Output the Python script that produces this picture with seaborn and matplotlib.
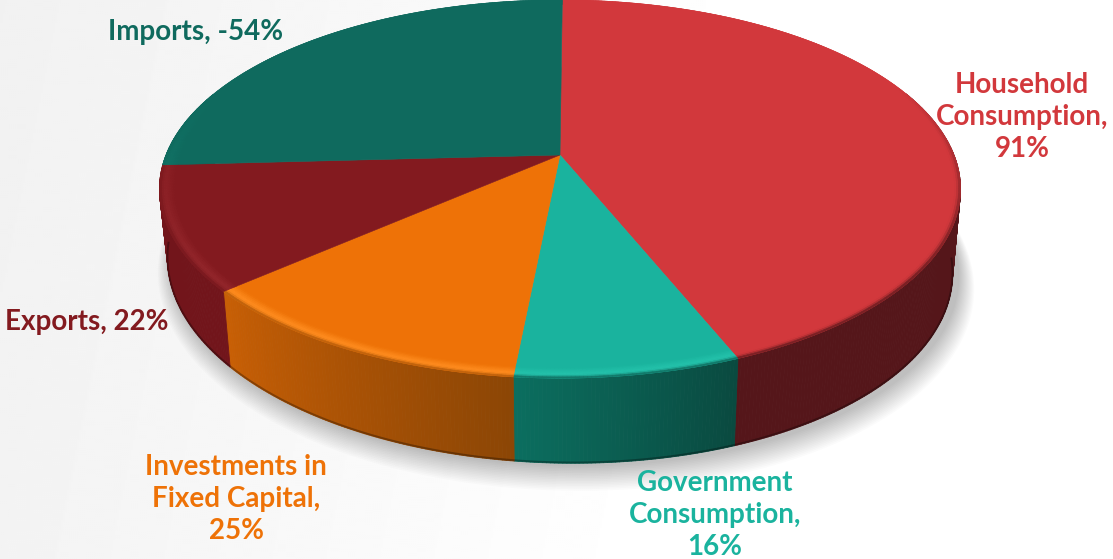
import numpy as np
import matplotlib
matplotlib.use("Agg")
import matplotlib.pyplot as plt
from matplotlib.collections import PolyCollection
import seaborn as sns

# GDP expenditure components, in percent
components = ["Household\nConsumption", "Government\nConsumption", "Investments in\nFixed Capital", "Exports", "Imports"]
shares = [91, 16, 25, 22, -54]

top_colors = ["#D2383C", "#1AB39E", "#EE7207", "#831A1F", "#0F6A5E"]
rim_colors = ["#D2383C", "#24C2AB", "#FF8C1E", "#93262B", "#14796B"]
side_light = ["#55161A", "#0B6E5F", "#C85F05", "#72151B", "#0F6A5E"]
side_dark = ["#55161A", "#0A4A40", "#8C4605", "#72151B", "#0F6A5E"]
label_xy = [(1022, 117), (715, 515), (236, 499), (87, 322), (196, 32)]

sns.set_theme(style="white")
plt.rcParams["font.family"] = ["Lato", "DejaVu Sans"]

# Perspective model of the pie: pixel-like axes, disc centre and tilt
CX, CY, RAD, TILT, PERSP = 560.0, 155.0, 394.0, 183.0, 0.18
START = np.deg2rad(0.4)


def top_face(t, r=1.0):
    w = 1 + PERSP * r * np.cos(t)
    return CX + RAD * r * np.sin(t) / w, CY - TILT * r * np.cos(t) / w


def bottom_face(t):
    x, y = top_face(t)
    return CX + (x - CX) * 0.98, y + 75 - 10 * np.cos(t) + 8 * np.sin(t)


def to_rgb_array(c):
    return np.array(matplotlib.colors.to_rgb(c))


fig = plt.figure(figsize=(11.13, 5.59), dpi=100)
ax = fig.add_axes([0, 0, 1, 1])

# Soft diagonal backdrop, pale gray on the left fading to white
gx, gy = np.meshgrid(np.linspace(0, 1113, 557), np.linspace(0, 559, 280))
shade = np.clip(0.945 + 0.055 * (gx + 0.2 * gy) / 760, 0.945, 1.0)
ax.imshow(shade, extent=(0, 1113, 559, 0), cmap="gray", vmin=0, vmax=1, aspect="auto", zorder=0,
          interpolation="bilinear")
ax.set_xlim(0, 1113)
ax.set_ylim(559, 0)
ax.axis("off")

# Cast shadow under the disc
ring = np.linspace(0, 2 * np.pi, 400)
bx, by = bottom_face(ring)
for grow in np.linspace(20, 1, 16):
    sx = CX + 6 + (bx - CX) * (1 + grow / 500)
    sy = by + 2 + grow * 0.6 + (by - by.mean()) * (grow / 320)
    ax.fill(sx, sy, color="black", alpha=0.015, lw=0, zorder=1)

magnitudes = np.abs(shares)
edges = START + np.concatenate([[0], np.cumsum(magnitudes)]) / magnitudes.sum() * 2 * np.pi

for i, name in enumerate(components):
    t0, t1 = edges[i], edges[i + 1]
    ts = np.linspace(t0, t1, max(int((t1 - t0) * 120), 8))

    # Outer wall, only where it faces the viewer
    ramp = sns.blend_palette([side_light[i], side_dark[i]], len(ts) - 1)
    if ts[-1] > np.pi:  # gradient always runs left to right on screen
        ramp = ramp[::-1]
    quads, cols = [], []
    for j in range(len(ts) - 1):
        if np.cos(ts[j]) > 0.35 and np.cos(ts[j + 1]) > 0.35:
            continue
        x0, y0 = top_face(ts[j])
        x1, y1 = top_face(ts[j + 1])
        x2, y2 = bottom_face(ts[j + 1])
        x3, y3 = bottom_face(ts[j])
        quads.append([(x0, y0), (x1, y1), (x2, y2), (x3, y3)])
        cols.append(ramp[j])
    if quads:
        ax.add_collection(PolyCollection(quads, facecolors=cols, edgecolors=cols, linewidths=0.6, zorder=2))
        # Thin dark line where the wall meets the floor
        front = ts[np.cos(ts) <= -0.1]
        fx, fy = bottom_face(front)
        ax.plot(fx, fy - 0.8, color="black", alpha=0.3, lw=1.4, zorder=2.5, solid_capstyle="butt")

    # Flat top of the slice
    tx, ty = top_face(ts)
    ax.fill(np.r_[CX, tx], np.r_[CY, ty], color=top_colors[i], lw=0.4, zorder=3)

    # Bevel along the front of the rim, from face colour through highlight to wall colour
    top_rgb, rim_rgb = to_rgb_array(top_colors[i]), to_rgb_array(rim_colors[i])
    wall_rgb = (to_rgb_array(side_light[i]) + to_rgb_array(side_dark[i])) / 2
    bands = np.linspace(0.962, 1.0, 9)
    quads, cols = [], []
    for b in range(len(bands) - 1):
        pos = (b + 0.5) / (len(bands) - 1)
        if pos < 0.6:
            base = top_rgb + (rim_rgb - top_rgb) * (pos / 0.6)
        else:
            base = rim_rgb + (wall_rgb - rim_rgb) * ((pos - 0.6) / 0.4) ** 2
        for j in range(len(ts) - 1):
            tm = 0.5 * (ts[j] + ts[j + 1])
            fade = np.clip(0.4 - np.cos(tm), 0, 1)
            xa, ya = top_face(ts[j], bands[b])
            xb, yb = top_face(ts[j + 1], bands[b])
            xc, yc = top_face(ts[j + 1], bands[b + 1])
            xd, yd = top_face(ts[j], bands[b + 1])
            quads.append([(xa, ya), (xb, yb), (xc, yc), (xd, yd)])
            cols.append(tuple(top_rgb + (base - top_rgb) * fade))
    ax.add_collection(PolyCollection(quads, facecolors=cols, edgecolors=cols, linewidths=0.4, zorder=4))

    # Data label
    lx, ly = label_xy[i]
    ax.text(lx, ly, f"{name}, {shares[i]}%" if len(name) < 9 else f"{name},\n{shares[i]}%",
            ha="center", va="center", multialignment="center", color=top_colors[i],
            fontsize=20, fontweight="bold", linespacing=1.29, zorder=6)

fig.savefig("out.png", dpi=100)
